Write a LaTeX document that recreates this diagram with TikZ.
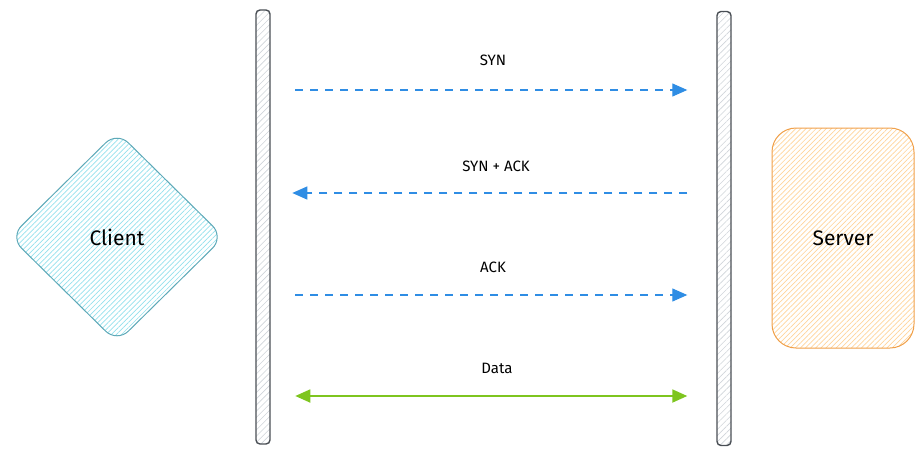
\documentclass[tikz,border=0pt]{standalone}
\usepackage{fontspec}
\setmainfont{Fira Sans}
\usepackage{tikz}
\usetikzlibrary{arrows.meta,shapes.geometric,patterns.meta}
\definecolor{ink}{HTML}{4a4f55}
\definecolor{barfill}{HTML}{cfd4d9}
\definecolor{msgblue}{HTML}{2f8de4}
\definecolor{datagreen}{HTML}{7ec51f}
\definecolor{cyanline}{HTML}{5ea9b8}
\definecolor{cyanfill}{HTML}{93e0ec}
\definecolor{orgline}{HTML}{f0a04a}
\definecolor{orgfill}{HTML}{ffd49a}
\tikzset{lifebar/.style={draw=ink, line width=0.7pt, rounded corners=2pt, minimum width=7pt, minimum height=217pt, inner sep=0pt,
           pattern={Lines[angle=45,distance=2.2pt,line width=0.3pt]}, pattern color=barfill},
         party/.style={font=\fontsize{10.5}{12}\selectfont, line width=0.5pt, inner sep=0pt},
         lbl/.style={font=\fontsize{7.5}{9}\selectfont, inner sep=1pt},
         msg/.style={-{Triangle[length=7.5pt, width=6.5pt]}, dash pattern=on 4pt off 3.5pt, line width=0.6pt, msgblue},
         data/.style={{Triangle[length=7.5pt, width=6.5pt]}-{Triangle[length=7.5pt, width=6.5pt]}, line width=0.9pt, datagreen}}

\begin{document}
\begin{tikzpicture}[x=0.5pt, y=-0.5pt]
\useasboundingbox (0,0) rectangle (923,456);
% lifelines
\node[lifebar] (lbar) at (263,227) {};
\node[lifebar] (rbar) at (724,228.5) {};
% the two parties
\node[party, shape=diamond, draw=cyanline, rounded corners=8pt, minimum width=107pt, minimum height=105.5pt,
      pattern={Lines[angle=45,distance=1.8pt,line width=0.35pt]}, pattern color=cyanfill] (client) at (117,237) {};
\node[party] at (client) {Client};
\node[party, draw=orgline, rounded corners=12pt, minimum width=71pt, minimum height=110pt,
      pattern={Lines[angle=45,distance=1.8pt,line width=0.35pt]}, pattern color=orgfill] (server) at (843,238) {};
\node[party] at (server) {Server};
% handshake
\node[lbl] (syn) at (493,60) {SYN};
\node[lbl] (synack) at (496,166) {SYN + ACK};
\node[lbl] (ack) at (493,267) {ACK};
\node[lbl] (dat) at (497,368) {Data};
\draw[msg, shorten <=12.5pt, shorten >=14.5pt] (lbar.east |- 0,90) -- (rbar.west |- 0,90);
\draw[msg, shorten <=14.5pt, shorten >=11pt] (rbar.west |- 0,193) -- (lbar.east |- 0,193);
\draw[msg, shorten <=12.5pt, shorten >=14.5pt] (lbar.east |- 0,295) -- (rbar.west |- 0,295);
\draw[data, shorten <=12.5pt, shorten >=14.5pt] (lbar.east |- 0,396) -- (rbar.west |- 0,396);
\end{tikzpicture}
\end{document}
